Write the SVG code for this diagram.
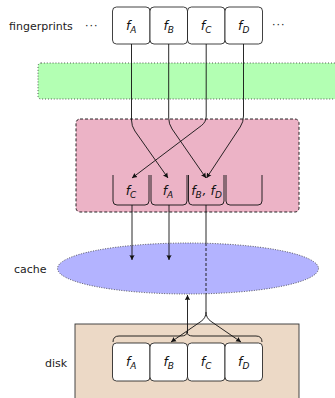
<svg xmlns="http://www.w3.org/2000/svg" width="335" height="398" viewBox="0 0 335 398">
<defs>
<style>
.lbl{font-family:"DejaVu Sans",sans-serif;font-size:11px;fill:#222}
.f{font-family:"DejaVu Sans",sans-serif;font-size:12.5px;font-style:italic;fill:#111;text-anchor:middle}
.sub{font-size:9px}
.box{fill:#fff;stroke:#111;stroke-width:0.8}
.bucket{fill:none;stroke:#111;stroke-width:0.9}
.edge{fill:none;stroke:#111;stroke-width:0.9}
</style>
<marker id="ah" markerUnits="userSpaceOnUse" markerWidth="7" markerHeight="7" refX="5" refY="3" orient="auto">
<path d="M0,0.4 L5,3 L0,5.6 Q1.2,3 0,0.4 z" fill="#111"/>
</marker>
</defs>
<rect width="335" height="398" fill="#fff"/>

<g id="fingerprints">
<text class="lbl" x="9" y="30">fingerprints</text>
<text class="lbl" x="85" y="29" letter-spacing="1">···</text>
<text class="lbl" x="272" y="28" letter-spacing="1">···</text>
<g id="fp-A"><rect class="box" x="112.5" y="7" width="37.5" height="37" rx="4"/><text class="f" x="131.2" y="30">f<tspan class="sub" dy="2.5">A</tspan></text></g>
<g id="fp-B"><rect class="box" x="150" y="7" width="37.5" height="37" rx="4"/><text class="f" x="168.7" y="30">f<tspan class="sub" dy="2.5">B</tspan></text></g>
<g id="fp-C"><rect class="box" x="187.5" y="7" width="37.5" height="37" rx="4"/><text class="f" x="206.2" y="30">f<tspan class="sub" dy="2.5">C</tspan></text></g>
<g id="fp-D"><rect class="box" x="225" y="7" width="37.5" height="37" rx="4"/><text class="f" x="243.7" y="30">f<tspan class="sub" dy="2.5">D</tspan></text></g>
</g>

<g id="filter">
<rect x="38" y="63" width="305" height="36" rx="3" fill="#b3ffb3" stroke="#333" stroke-width="0.9" stroke-dasharray="0.9,2"/>
</g>

<g id="buffer">
<rect x="76" y="119" width="223" height="93" rx="4" fill="#ecb3c6" stroke="#111" stroke-width="0.9" stroke-dasharray="3,2"/>
<g id="bucket-1"><path class="bucket" d="M113,175 V201 Q113,205 117,205 H145 Q149,205 149,201 V175"/><text class="f" x="131" y="195">f<tspan class="sub" dy="2.5">C</tspan></text></g>
<g id="bucket-2"><path class="bucket" d="M151,175 V201 Q151,205 155,205 H183 Q187,205 187,201 V175"/><text class="f" x="168" y="195">f<tspan class="sub" dy="2.5">A</tspan></text></g>
<g id="bucket-3"><path class="bucket" d="M188.5,175 V201 Q188.5,205 192.5,205 H220 Q224,205 224,201 V175"/><text class="f" x="206.5" y="195">f<tspan class="sub" dy="2.5">B</tspan><tspan dx="0.8" dy="-2.5">, f</tspan><tspan class="sub" dy="2.5">D</tspan></text></g>
<g id="bucket-4"><path class="bucket" d="M226,175 V201 Q226,205 230,205 H258 Q262,205 262,201 V175"/></g>
</g>

<g id="cache">
<text class="lbl" x="14" y="273">cache</text>
<ellipse cx="188" cy="268.5" rx="130.5" ry="25.5" fill="#b3b3ff" stroke="#333" stroke-width="0.9" stroke-dasharray="0.9,1.6"/>
</g>

<g id="disk">
<text class="lbl" x="45" y="367">disk</text>
<rect x="75" y="324" width="224" height="90" fill="#ecd9c6" stroke="#333" stroke-width="0.9"/>
<path class="bucket" d="M113,342 Q113,336 119,336 H181 Q187,336 187,332 Q187,336 193,336 H256 Q262,336 262,342"/>
<g id="disk-A"><rect class="box" x="112.5" y="343" width="37.5" height="38" rx="4"/><text class="f" x="131.2" y="366">f<tspan class="sub" dy="2.5">A</tspan></text></g>
<g id="disk-B"><rect class="box" x="150" y="343" width="37.5" height="38" rx="4"/><text class="f" x="168.7" y="366">f<tspan class="sub" dy="2.5">B</tspan></text></g>
<g id="disk-C"><rect class="box" x="187.5" y="343" width="37.5" height="38" rx="4"/><text class="f" x="206.2" y="366">f<tspan class="sub" dy="2.5">C</tspan></text></g>
<g id="disk-D"><rect class="box" x="225" y="343" width="37.5" height="38" rx="4"/><text class="f" x="243.7" y="366">f<tspan class="sub" dy="2.5">D</tspan></text></g>
</g>

<g id="connectors">
<path class="edge" d="M131.5,44 V120 Q131.5,126 134.9,131 L168,178" marker-end="url(#ah)"/>
<path class="edge" d="M168.7,44 V118 Q168.7,124 172.1,129 L206,178" marker-end="url(#ah)"/>
<path class="edge" d="M206.2,44 V116 Q206.2,122 201.4,125.6 L132,178" marker-end="url(#ah)"/>
<path class="edge" d="M243.5,44 V116 Q243.5,122 240.2,127 L206.5,178" marker-end="url(#ah)"/>
<path class="edge" d="M132,205 V260" marker-end="url(#ah)"/>
<path class="edge" d="M169,205 V260" marker-end="url(#ah)"/>
<path class="edge" d="M206,205 V243"/>
<path class="edge" d="M206,243 V294" stroke-dasharray="3,2"/>
<path class="edge" d="M206,294 V312 Q206,318 201,321.4 L171,342" marker-end="url(#ah)"/>
<path class="edge" d="M206,312 Q206,318 211,321.4 L241,342" marker-end="url(#ah)"/>
<path class="edge" d="M187.5,333 V295" marker-end="url(#ah)"/>
</g>
</svg>
